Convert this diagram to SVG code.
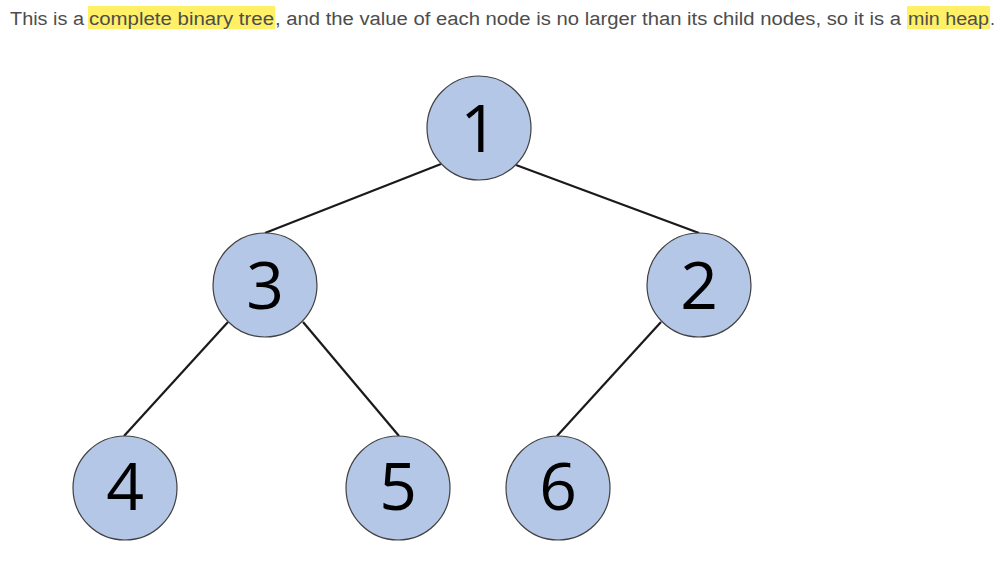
<svg xmlns="http://www.w3.org/2000/svg" width="1008" height="576" viewBox="0 0 1008 576">
<style>
.cap{font-family:"Liberation Sans",Arial,sans-serif;font-size:18px;fill:#4d4d4d}
.hl{fill:#fff066}
.node circle{fill:#b4c7e7;stroke:#404040;stroke-width:1.2}
.node text{font-family:"Open Sans","Noto Sans",sans-serif;font-size:66px;fill:#000;text-anchor:middle}
.edges line{stroke:#1a1a1a;stroke-width:2.2}
</style>
<rect width="1008" height="576" fill="#fff"/>
<g id="caption">
<rect class="hl" x="88" y="6" width="187" height="23"/>
<rect class="hl" x="907" y="6" width="83" height="23"/>
<text class="cap" y="25"><tspan x="10" textLength="74" lengthAdjust="spacingAndGlyphs">This is a</tspan><tspan x="89" textLength="185" lengthAdjust="spacingAndGlyphs">complete binary tree</tspan><tspan x="275" textLength="626" lengthAdjust="spacingAndGlyphs">, and the value of each node is no larger than its child nodes, so it is a</tspan><tspan x="908" textLength="81" lengthAdjust="spacingAndGlyphs">min heap</tspan><tspan x="990">.</tspan></text>
</g>
<g id="connectors" class="edges">
<line x1="441" y1="164" x2="265" y2="233"/>
<line x1="516" y1="165" x2="699" y2="233"/>
<line x1="228" y1="322" x2="124" y2="436"/>
<line x1="303" y1="322" x2="399" y2="436"/>
<line x1="661" y1="322" x2="557" y2="436"/>
</g>
<g id="node1" class="node"><circle cx="479" cy="128" r="52"/><text x="479" y="152">1</text></g>
<g id="node3" class="node"><circle cx="265" cy="285" r="52"/><text x="265" y="309">3</text></g>
<g id="node2" class="node"><circle cx="699" cy="285" r="52"/><text x="699" y="309">2</text></g>
<g id="node4" class="node"><circle cx="125" cy="488" r="52"/><text x="125" y="510">4</text></g>
<g id="node5" class="node"><circle cx="398" cy="488" r="52"/><text x="398" y="510">5</text></g>
<g id="node6" class="node"><circle cx="558" cy="488" r="52"/><text x="558" y="510">6</text></g>
</svg>
